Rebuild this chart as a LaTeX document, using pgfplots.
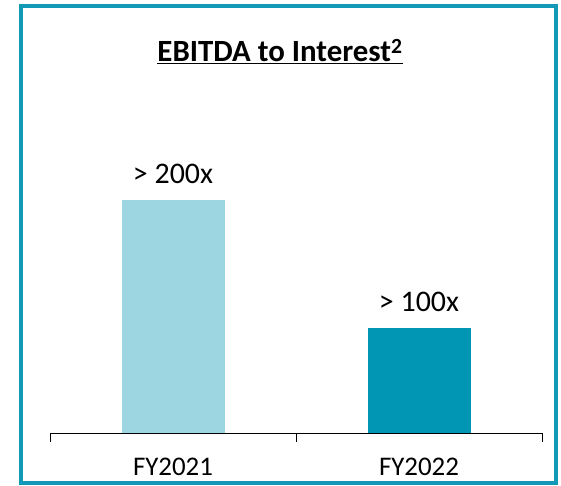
\documentclass[border=0pt]{standalone}
\usepackage{fontspec}
\setmainfont{Carlito}
\usepackage{pgfplots}
\pgfplotsset{compat=1.18}
\definecolor{framec}{RGB}{17,153,181}
\definecolor{lightbar}{RGB}{157,213,224}
\definecolor{darkbar}{RGB}{0,150,180}

\begin{document}
\begin{tikzpicture}
\useasboundingbox (0,0) rectangle (561bp,486bp);
\draw[framec, line width=4bp] (21bp,3bp) rectangle (556bp,480bp);
\node[anchor=base, font=\fontsize{31}{36}\selectfont\bfseries] at (280bp,424bp)
  {\underline{EBITDA to Interest\textsuperscript{2}}};
\begin{axis}[
    at={(50bp,53bp)}, anchor=origin,
    scale only axis,
    width=492bp, height=300bp,
    xmin=0.5, xmax=2.5,
    ymin=0, ymax=257.5,
    axis x line=bottom,
    axis y line=none,
    x axis line style={-, black, line width=0.8bp},
    xtick={0.5,1.5,2.5},
    xticklabels={},
    major tick length=9bp,
    xtick align=outside,
    major x tick style={black, line width=0.8bp},
    extra x ticks={1,2},
    extra x tick labels={FY2021,FY2022},
    extra x tick style={major x tick style={draw=none}},
    xticklabel style={font=\fontsize{27}{32}\selectfont, yshift=-13bp},
    clip=false,
    ybar, bar width=103bp, bar shift=0pt,
    point meta=explicit symbolic,
    nodes near coords,
    every node near coord/.append style={font=\fontsize{30}{36}\selectfont,
      anchor=south, yshift=13bp, black},
]
\addplot[fill=lightbar, draw=none] coordinates {(1,200) [{> 200x}]};
\addplot[fill=darkbar, draw=none] coordinates {(2,90.1) [{> 100x}]};
\end{axis}
\end{tikzpicture}
\end{document}
